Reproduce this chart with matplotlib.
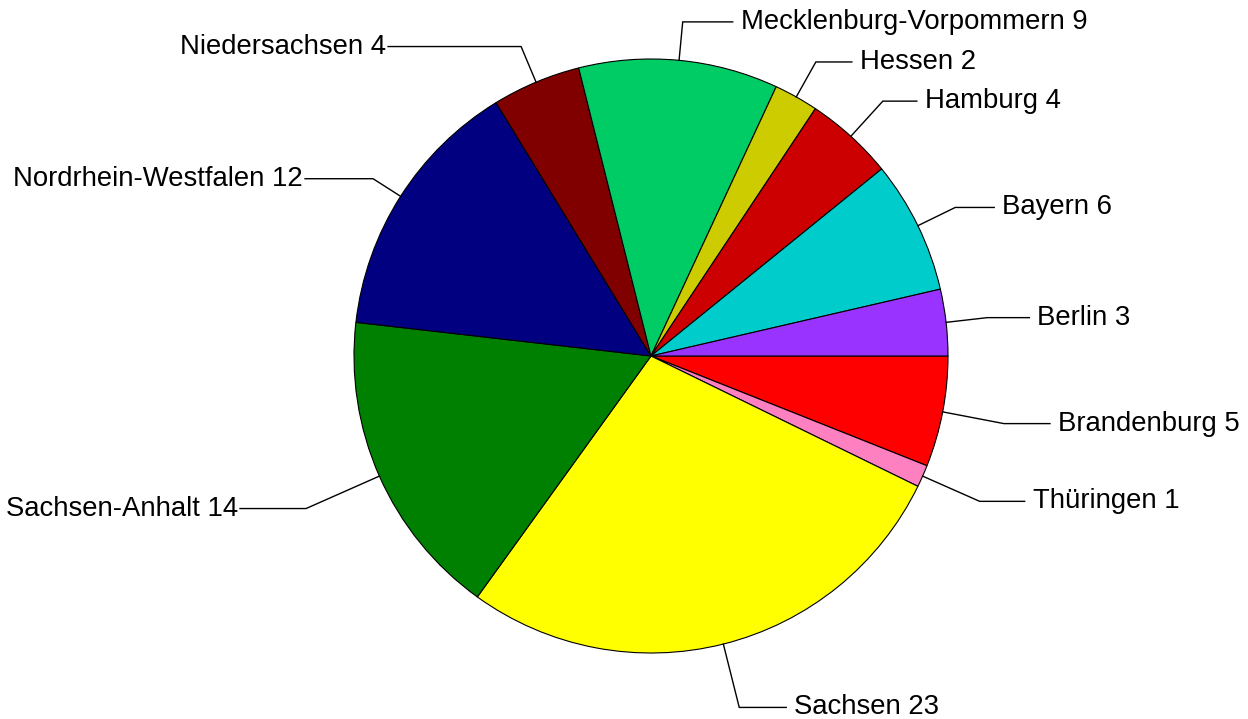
import numpy as np
import matplotlib
matplotlib.use("Agg")
import matplotlib.pyplot as plt

states = ['Brandenburg', 'Thüringen', 'Sachsen', 'Sachsen-Anhalt',
          'Nordrhein-Westfalen', 'Niedersachsen', 'Mecklenburg-Vorpommern',
          'Hessen', 'Hamburg', 'Bayern', 'Berlin']
counts = [5, 1, 23, 14, 12, 4, 9, 2, 4, 6, 3]
colors = ['#FF0000', '#FF80C0', '#FFFF00', '#008000', '#000080', '#800000',
          '#00CC66', '#CCCC00', '#CC0000', '#00CCCC', '#9933FF']

# layout of leader lines (elbow radius factor, horizontal length in px)
elbow_r = [1.21, 1.21, 1.22, 1.27, 1.11, 1.13, 1.13, 1.135, 1.16, 1.14, 1.14]
hlen = [46, 45, 47, 66, 68, 133, 50, 36, 34, 39, 42]
gap = 8

plt.rcParams['font.family'] = ['Liberation Sans', 'DejaVu Sans']

W, H = 1248, 719
fig = plt.figure(figsize=(W / 100, H / 100), dpi=100)
ax = fig.add_axes([0, 0, 1, 1])

cx, cy, R = 651, H - 356, 297
wedges, _ = ax.pie(counts, colors=colors, startangle=0, counterclock=False,
                   center=(cx, cy), radius=R,
                   wedgeprops=dict(edgecolor='black', linewidth=0.8))
ax.set_xlim(0, W)
ax.set_ylim(0, H)
ax.set_aspect('equal')
ax.axis('off')

for w, lab, val, er, hl in zip(wedges, states, counts, elbow_r, hlen):
    ang = np.deg2rad((w.theta1 + w.theta2) / 2)
    x0, y0 = cx + R * np.cos(ang), cy + R * np.sin(ang)
    x1, y1 = cx + er * R * np.cos(ang), cy + er * R * np.sin(ang)
    side = 1 if np.cos(ang) >= 0 else -1
    x2 = x1 + side * hl
    ax.plot([x0, x1, x2], [y0, y1, y1], color='black', lw=1.0,
            solid_joinstyle='miter', clip_on=False)
    ax.text(x2 + side * gap if side > 0 else x2 - 2, y1, f'{lab} {val}',
            ha='left' if side > 0 else 'right', va='center',
            fontsize=19.8, color='black')

fig.savefig('out.png', dpi=100)
